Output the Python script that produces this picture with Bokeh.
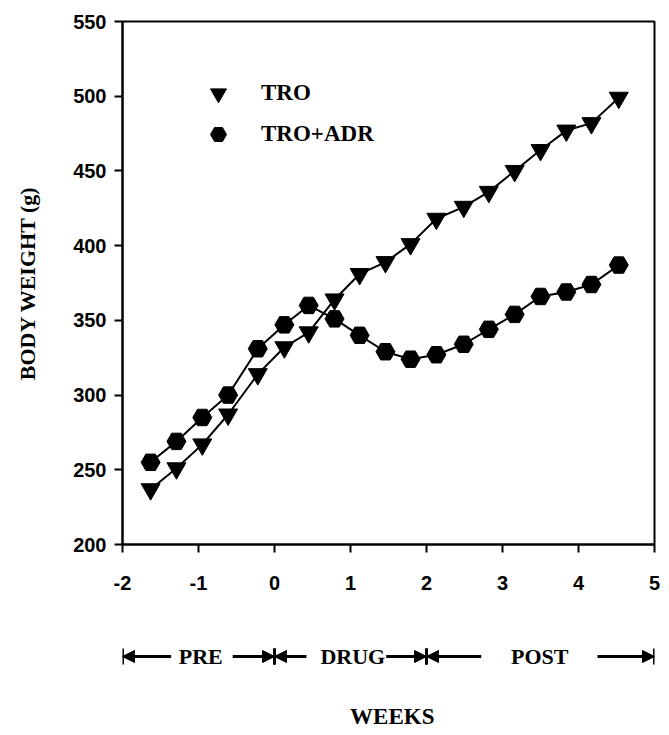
from bokeh.plotting import figure
from bokeh.layouts import column
from bokeh.models import (FixedTicker, Legend, LegendItem, Arrow, NormalHead, TeeHead,
                          Label, ColumnDataSource, Range1d)
from bokeh.embed import file_html
from bokeh.resources import INLINE

# ---- data ----
weeks = [-1.63, -1.29, -0.95, -0.61, -0.22, 0.13, 0.45, 0.79, 1.12, 1.46,
         1.79, 2.13, 2.49, 2.82, 3.16, 3.50, 3.84, 4.17, 4.53]
tro = [237, 251, 267, 287, 314, 332, 342, 364, 381, 389,
       401, 418, 426, 436, 450, 464, 477, 482, 499]
tro_adr = [255, 269, 285, 300, 331, 347, 360, 351, 340, 329,
           324, 327, 334, 344, 354, 366, 369, 374, 387]
x_ticks = [-2, -1, 0, 1, 2, 3, 4, 5]
y_ticks = [200, 250, 300, 350, 400, 450, 500, 550]
periods = ["PRE", "DRUG", "POST"]
period_bounds = [(-2, 0), (0, 2), (2, 5)]
period_text_x = [-0.97, 1.03, 3.49]
period_inner = [(-1.36, -0.55), (0.42, 1.47), (2.72, 4.25)]

SERIF = "Liberation Serif"
SANS = "Liberation Sans"
W = 665
BL, BR = 122, 11

p = figure(width=W, height=594, x_range=(-2, 5), y_range=(200, 550),
           output_backend="svg", toolbar_location=None,
           min_border_left=BL, min_border_right=BR, min_border_top=21,
           min_border_bottom=50)
p.grid.visible = False
p.outline_line_color = "black"
p.outline_line_width = 2
p.background_fill_color = "white"
p.border_fill_color = "white"

for ax in (p.xaxis[0], p.yaxis[0]):
    ax.axis_line_width = 2
    ax.axis_line_color = "black"
    ax.major_tick_line_width = 2
    ax.major_tick_in = 0
    ax.major_tick_out = 8
    ax.minor_tick_line_color = None
    ax.major_label_text_font = SANS
    ax.major_label_text_font_style = "bold"
    ax.major_label_text_font_size = "20px"
    ax.major_label_text_color = "black"
    ax.axis_label_text_font = SERIF
    ax.axis_label_text_font_style = "bold"
    ax.axis_label_text_color = "black"

p.xaxis.ticker = FixedTicker(ticks=x_ticks)
p.xaxis.major_label_overrides = {t: str(t) for t in x_ticks}
p.yaxis.ticker = FixedTicker(ticks=y_ticks)
p.xaxis.major_label_standoff = 23
p.yaxis.major_label_standoff = 8

p.yaxis.axis_label = "BODY WEIGHT (g)"
p.yaxis.axis_label_text_font_size = "22px"
p.yaxis.axis_label_standoff = 30

src = ColumnDataSource(dict(w=weeks, tro=tro, tro_adr=tro_adr))
p.line("w", "tro", source=src, line_color="black", line_width=2)
p.line("w", "tro_adr", source=src, line_color="black", line_width=2)
r1 = p.scatter("w", "tro", source=src, marker="inverted_triangle", size=19,
               fill_color="black", line_color="black")
r2 = p.scatter("w", "tro_adr", source=src, marker="hex", size=19,
               fill_color="black", line_color="black")

legend = Legend(items=[LegendItem(label="TRO", renderers=[r1]),
                       LegendItem(label="TRO+ADR", renderers=[r2])],
                location=(76, 390), padding=0, margin=0, spacing=1,
                glyph_width=40, glyph_height=40, label_height=40,
                label_standoff=23, border_line_color=None,
                background_fill_alpha=0,
                label_text_font=SERIF, label_text_font_style="bold",
                label_text_font_size="23px", label_text_color="black")
p.add_layout(legend, "center")

# ---- lower strip: period annotations and the WEEKS title ----
p2 = figure(width=W, height=138, x_range=p.x_range,
            y_range=Range1d(138, 0), output_backend="svg", toolbar_location=None,
            min_border_left=BL, min_border_right=BR, min_border_top=0,
            min_border_bottom=0)
p2.axis.visible = False
p2.grid.visible = False
p2.outline_line_color = None
p2.background_fill_color = "white"
p2.border_fill_color = "white"

row_y = 62
for name, (a, b), tx, (ia, ib) in zip(periods, period_bounds, period_text_x, period_inner):
    for s, e in ((ia, a), (ib, b)):
        p2.add_layout(Arrow(x_start=s, y_start=row_y, x_end=e, y_end=row_y,
                            line_width=3, line_color="black",
                            end=NormalHead(size=12, fill_color="black",
                                           line_color="black")))
        p2.add_layout(Arrow(x_start=s, y_start=row_y, x_end=e, y_end=row_y,
                            line_width=0, line_alpha=0,
                            end=TeeHead(size=16, line_width=3,
                                        line_color="black")))
    p2.add_layout(Label(x=tx, y=row_y, text=name, text_align="center",
                        text_baseline="middle", text_font=SERIF,
                        text_font_style="bold", text_font_size="22px",
                        text_color="black"))

p2.add_layout(Label(x=1.55, y=122, text="WEEKS", text_align="center",
                    text_baseline="middle", text_font=SERIF,
                    text_font_style="bold", text_font_size="23px",
                    text_color="black"))

layout = column(p, p2, spacing=0)
open("out.html", "w").write(file_html(layout, INLINE))
